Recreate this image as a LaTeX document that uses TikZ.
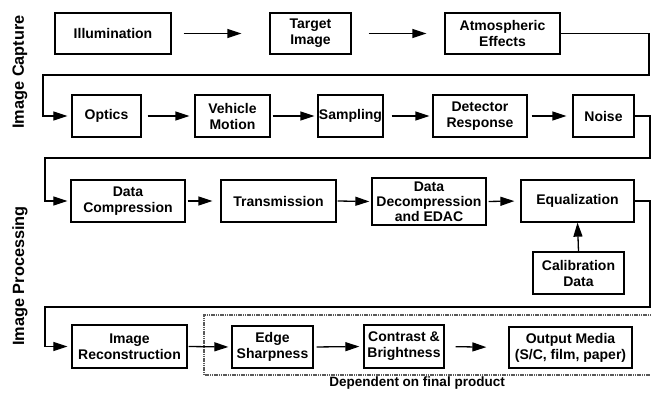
\documentclass[tikz,border=0pt]{standalone}
\usepackage{fontspec}
\setmainfont{Liberation Sans}
\usetikzlibrary{arrows.meta}
\begin{document}
\begin{tikzpicture}[x=1pt,y=-1pt,
  stagebox/.style={draw,line width=1.3pt,align=center,inner sep=0pt,
    font=\fontsize{14}{16}\selectfont\bfseries},
  flow/.style={line width=1.3pt,-{Triangle[length=14pt,width=9pt]}},
  loop/.style={line width=1.2pt,-{Triangle[length=14pt,width=9pt]}},
  sidelabel/.style={rotate=90,font=\fontsize{16.3}{18}\selectfont\bfseries},
  groupframe/.style={draw=black!65,line width=1.7pt,dash pattern=on 1.2pt off 0.6pt}]
\useasboundingbox (0,0) rectangle (651,395);

% side labels
\node[sidelabel] (capture) at (20,72) {Image Capture};
\node[sidelabel] (processing) at (20,276) {Image Processing};

% group frame for product-dependent steps
\draw[groupframe] (651,315) -- (204,315) -- (204,375) -- (651,375);
\node[font=\fontsize{13.5}{15}\selectfont\bfseries] (dep) at (417,383) {Dependent on final product};

% row 1
\node[stagebox,minimum width=116pt,minimum height=41pt] (illum) at (113,33.5) {Illumination};
\node[stagebox,minimum width=81pt,minimum height=41pt] (target) at (310.5,33.5) {Target\\Image};
\node[stagebox,minimum width=115pt,minimum height=41pt] (atmos) at (502.5,33.5) {Atmospheric\\Effects};

% row 2
\node[stagebox,minimum width=69pt,minimum height=42pt] (optics) at (106.5,116) {Optics};
\node[stagebox,minimum width=75pt,minimum height=42pt] (vehicle) at (232.5,116) {Vehicle\\Motion};
\node[stagebox,minimum width=65pt,minimum height=42pt] (sampling) at (350.5,116) {Sampling};
\node[stagebox,minimum width=94pt,minimum height=42pt] (detector) at (480,116) {Detector\\Response};
\node[stagebox,minimum width=61pt,minimum height=42pt] (noise) at (603.5,116) {Noise};

% row 3
\node[stagebox,minimum width=114pt,minimum height=42pt] (dcomp) at (128,201) {Data\\Compression};
\node[stagebox,minimum width=115pt,minimum height=42pt] (trans) at (278.5,201) {Transmission};
\node[stagebox,minimum width=114pt,minimum height=47pt,
  font=\fontsize{14}{15}\selectfont\bfseries] (decomp) at (429,201.5) {Data\\Decompression\\and EDAC};
\node[stagebox,minimum width=113pt,minimum height=42pt] (equal) at (577.5,201) {Equalization};
\node[stagebox,minimum width=91pt,minimum height=42pt] (calib) at (578.5,273) {Calibration\\Data};

% row 4
\node[stagebox,minimum width=115pt,minimum height=43pt] (recon) at (129.5,346.5) {Image\\Reconstruction};
\node[stagebox,minimum width=81pt,minimum height=42pt] (edge) at (272.5,347) {Edge\\Sharpness};
\node[stagebox,minimum width=80pt,minimum height=43pt] (contrast) at (404,346.5) {Contrast \&\\Brightness};
\node[stagebox,minimum width=123pt,minimum height=41pt] (output) at (570.5,347.5) {Output Media\\(S/C, film, paper)};

% arrows along row 1
\draw[flow,shorten <=12pt,shorten >=28pt] (illum.east) -- (target.west);
\draw[flow,shorten <=17pt,shorten >=18pt] (target.east) -- (atmos.west);

% arrows along row 2
\draw[flow,shorten <=6pt,shorten >=5pt] (optics.east) -- (vehicle.west);
\draw[flow,shorten <=2pt,shorten >=3pt] (vehicle.east) -- (sampling.west);
\draw[flow,shorten <=8pt,shorten >=3pt] (sampling.east) -- (detector.west);
\draw[flow,shorten <=4pt,shorten >=6pt] (detector.east) -- (noise.west);

% arrows along row 3
\draw[flow,shorten <=2pt,shorten >=8pt] (dcomp.east) -- (trans.west);
\draw[flow,shorten <=1pt,shorten >=2pt] (trans.east) -- (decomp.west);
\draw[flow,shorten <=2pt,shorten >=6pt] (decomp.east) -- (equal.west);
\draw[flow] (calib.north) -- (equal.south);

% arrows along row 4
\draw[flow,shorten <=1pt,shorten >=3pt] (recon.east) -- (edge.west);
\draw[flow,shorten <=3pt,shorten >=4pt] (edge.east) -- (contrast.west);
\draw[flow,shorten <=11pt,shorten >=22pt] (contrast.east) -- (output.west);

% wrap-around connectors between rows
\draw[loop,shorten >=4pt] (atmos.east) -- (649,33.5) -- (649,75) -- (43,75) -- (43,116) -- (optics.west);
\draw[loop,shorten >=3pt] (noise.east) -- (650,116) -- (650,158) -- (45,158) -- (45,201) -- (dcomp.west);
\draw[loop,shorten >=4pt] (equal.east) -- (650,201) -- (650,307) -- (45,307) -- (45,346.5) -- (recon.west);
\end{tikzpicture}
\end{document}
